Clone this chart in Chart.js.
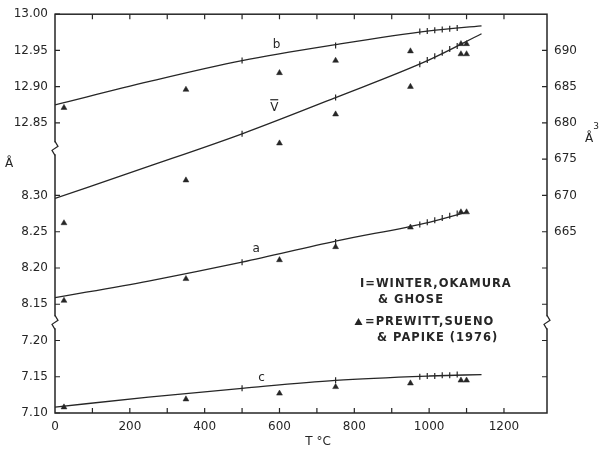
<!DOCTYPE html>
<html>
<head>
<meta charset="utf-8">
<script src="https://cdn.jsdelivr.net/npm/chart.js@4.4.1/dist/chart.umd.min.js"></script>
<style>
  html, body { margin: 0; padding: 0; background: #fff; }
  #wrap { width: 599px; height: 450px; }
</style>
</head>
<body>
<div id="wrap"><canvas id="chart" width="599" height="450"></canvas></div>
<script>
// --- data (T in °C, cell edges in Å, volume in Å³) ---
const fitT = [0, 250, 500, 750, 1000, 1140];
const fitTa = [0, 250, 500, 750, 1000, 1100];
const fitB = [12.875, 12.907, 12.936, 12.958, 12.977, 12.984];
const fitV = [669.6, 674.0, 678.5, 683.5, 688.7, 692.3];
const fitA = [8.159, 8.182, 8.208, 8.237, 8.263, 8.277];
const fitC = [7.108, 7.122, 7.134, 7.145, 7.151, 7.153];

// Winter, Okamura & Ghose (I marks)
const winterT = [500, 750, 975, 995, 1015, 1035, 1055, 1075];
const winterB = [12.936, 12.957, 12.976, 12.977, 12.978, 12.979, 12.980, 12.981];
const winterV = [678.5, 683.5, 688.1, 688.7, 689.2, 689.7, 690.2, 690.6];
const winterA = [8.208, 8.236, 8.260, 8.263, 8.266, 8.269, 8.272, 8.275];
const winterC = [7.134, 7.145, 7.150, 7.151, 7.151, 7.152, 7.152, 7.153];

// Prewitt, Sueno & Papike (1976) (triangles)
const prewittT = [24, 350, 600, 750, 950, 1085, 1100];
const prewittB = [12.871, 12.896, 12.919, 12.936, 12.949, 12.945, 12.945];
const prewittV = [666.2, 672.1, 677.2, 681.2, 685.0, 690.9, 690.9];
const prewittA = [8.155, 8.185, 8.211, 8.229, 8.256, 8.277, 8.277];
const prewittC = [7.108, 7.119, 7.127, 7.136, 7.141, 7.145, 7.145];

// axis ticks
const xTicks = [0, 200, 400, 600, 800, 1000, 1200];
const xMinor = [100, 200, 300, 400, 500, 600, 700, 800, 900, 1000, 1100, 1200];
const leftTicks = [7.10, 7.15, 7.20, 8.15, 8.20, 8.25, 8.30, 12.85, 12.90, 12.95, 13.00];
const volTicks = [665, 670, 675, 680, 685, 690];
const volMarks = [645, 650, 655, 660, 665, 670, 675, 680, 685, 690];

const ink = '#262626';

// broken left axis: each 0.05 Å is one step
function toAxis(v) {
  if (v > 12) return 8 + (v - 12.85) / 0.05;
  if (v > 7.8) return 3 + (v - 8.15) / 0.05;
  return (v - 7.10) / 0.05;
}
const pts = (xs, ys, f) => xs.map((t, i) => ({ x: t, y: f ? f(ys[i]) : ys[i] }));

function fitSet(xs, ys, axis, f) {
  return {
    data: pts(xs, ys, f), yAxisID: axis, showLine: true, pointRadius: 0,
    borderColor: ink, borderWidth: 1.3, cubicInterpolationMode: 'monotone'
  };
}
function winterSet(ys, axis, f) {
  return {
    data: pts(winterT, ys, f), yAxisID: axis, showLine: false,
    pointStyle: 'line', rotation: 90, pointRadius: 3, borderColor: ink, borderWidth: 1.2
  };
}
function prewittSet(ys, axis, f) {
  return {
    data: pts(prewittT, ys, f), yAxisID: axis, showLine: false,
    pointStyle: 'triangle', pointRadius: 3.4, backgroundColor: ink, borderColor: ink, borderWidth: 0.5
  };
}

const decor = {
  id: 'decor',
  afterDraw(chart) {
    const { ctx, chartArea: a, scales: { x, y, y2 } } = chart;
    ctx.save();
    ctx.strokeStyle = ink;
    ctx.fillStyle = ink;
    ctx.lineWidth = 1.5;
    ctx.strokeRect(a.left, a.top, a.right - a.left, a.bottom - a.top);

    // inward tick marks
    ctx.lineWidth = 1.2;
    ctx.beginPath();
    xMinor.forEach(t => {
      const px = x.getPixelForValue(t);
      ctx.moveTo(px, a.bottom); ctx.lineTo(px, a.bottom - 5);
      ctx.moveTo(px, a.top); ctx.lineTo(px, a.top + 5);
    });
    leftTicks.forEach(v => {
      const py = y.getPixelForValue(toAxis(v));
      ctx.moveTo(a.left, py); ctx.lineTo(a.left + 5, py);
    });
    volMarks.forEach(v => {
      const py = y2.getPixelForValue(v);
      ctx.moveTo(a.right, py); ctx.lineTo(a.right - 5, py);
    });
    ctx.stroke();

    // axis breaks
    const zig = (px, py) => {
      ctx.fillStyle = '#fff';
      ctx.fillRect(px - 2, py - 6, 4, 12);
      ctx.beginPath();
      ctx.moveTo(px, py - 7);
      ctx.lineTo(px + 3, py - 2);
      ctx.lineTo(px - 3, py + 2);
      ctx.lineTo(px, py + 7);
      ctx.stroke();
    };
    zig(a.left, y.getPixelForValue(7.3));
    zig(a.left, y.getPixelForValue(2.5));
    zig(a.right, y2.getPixelForValue(652.5));

    // curve labels
    ctx.fillStyle = ink;
    ctx.font = '12px "DejaVu Sans"';
    ctx.textAlign = 'center';
    ctx.textBaseline = 'middle';
    ctx.fillText('b', x.getPixelForValue(592), y.getPixelForValue(toAxis(12.958)));
    const vx = x.getPixelForValue(586), vy = y2.getPixelForValue(682.1);
    ctx.fillText('V', vx, vy);
    ctx.beginPath(); ctx.moveTo(vx - 4, vy - 8); ctx.lineTo(vx + 4, vy - 8); ctx.stroke();
    ctx.fillText('a', x.getPixelForValue(538), y.getPixelForValue(toAxis(8.226)));
    ctx.fillText('c', x.getPixelForValue(552), y.getPixelForValue(toAxis(7.148)));

    // axis titles
    ctx.font = '12px "DejaVu Sans"';
    ctx.fillText('Å', 9, 164);
    ctx.fillText('Å', 589, 139);
    ctx.font = '9px "DejaVu Sans"';
    ctx.fillText('3', 596, 127);
    ctx.font = '12px "DejaVu Sans"';
    ctx.fillText('T °C', 318, 442);

    // key
    ctx.font = 'bold 11.5px "DejaVu Sans"';
    ctx.letterSpacing = '1px';
    ctx.textAlign = 'left';
    ctx.fillText('I=WINTER,OKAMURA', 360, 284);
    ctx.fillText('& GHOSE', 378, 300);
    ctx.fillText('=PREWITT,SUENO', 365, 322);
    ctx.fillText('& PAPIKE (1976)', 377, 338);
    ctx.beginPath();
    ctx.moveTo(358.5, 318); ctx.lineTo(362.5, 325); ctx.lineTo(354.5, 325); ctx.closePath();
    ctx.fill();
    ctx.restore();
  }
};

Chart.defaults.font.family = '"DejaVu Sans", sans-serif';
Chart.defaults.color = ink;

new Chart(document.getElementById('chart'), {
  type: 'scatter',
  data: {
    datasets: [
      fitSet(fitT, fitB, 'y', toAxis),
      fitSet(fitT, fitV, 'y2'),
      fitSet(fitTa, fitA, 'y', toAxis),
      fitSet(fitT, fitC, 'y', toAxis),
      winterSet(winterB, 'y', toAxis),
      winterSet(winterV, 'y2'),
      winterSet(winterA, 'y', toAxis),
      winterSet(winterC, 'y', toAxis),
      prewittSet(prewittB, 'y', toAxis),
      prewittSet(prewittV, 'y2'),
      prewittSet(prewittA, 'y', toAxis),
      prewittSet(prewittC, 'y', toAxis)
    ]
  },
  options: {
    responsive: false,
    animation: false,
    layout: { padding: { top: 12, left: 0, right: 0, bottom: 0 } },
    plugins: { legend: { display: false }, tooltip: { enabled: false } },
    scales: {
      x: {
        type: 'linear', position: 'bottom', min: 0, max: 1315,
        afterBuildTicks: s => { s.ticks = xTicks.map(v => ({ value: v })); },
        afterFit: s => { s.height = 37; },
        grid: { display: false, drawTicks: false },
        border: { display: false },
        ticks: { font: { size: 12 }, padding: 7, maxRotation: 0, callback: v => String(v) }
      },
      y: {
        type: 'linear', position: 'left', min: 0, max: 11,
        afterBuildTicks: s => { s.ticks = leftTicks.map(v => ({ value: toAxis(v) })); },
        afterFit: s => { s.width = 55; },
        grid: { display: false, drawTicks: false },
        border: { display: false },
        ticks: { font: { size: 12 }, padding: 7, callback: (v, i) => leftTicks[i].toFixed(2) }
      },
      y2: {
        type: 'linear', position: 'right', min: 640, max: 695,
        afterBuildTicks: s => { s.ticks = volTicks.map(v => ({ value: v })); },
        afterFit: s => { s.width = 52; },
        grid: { display: false, drawTicks: false },
        border: { display: false },
        ticks: { font: { size: 12 }, padding: 7, callback: v => String(v) }
      }
    }
  },
  plugins: [decor]
});
</script>
</body>
</html>
